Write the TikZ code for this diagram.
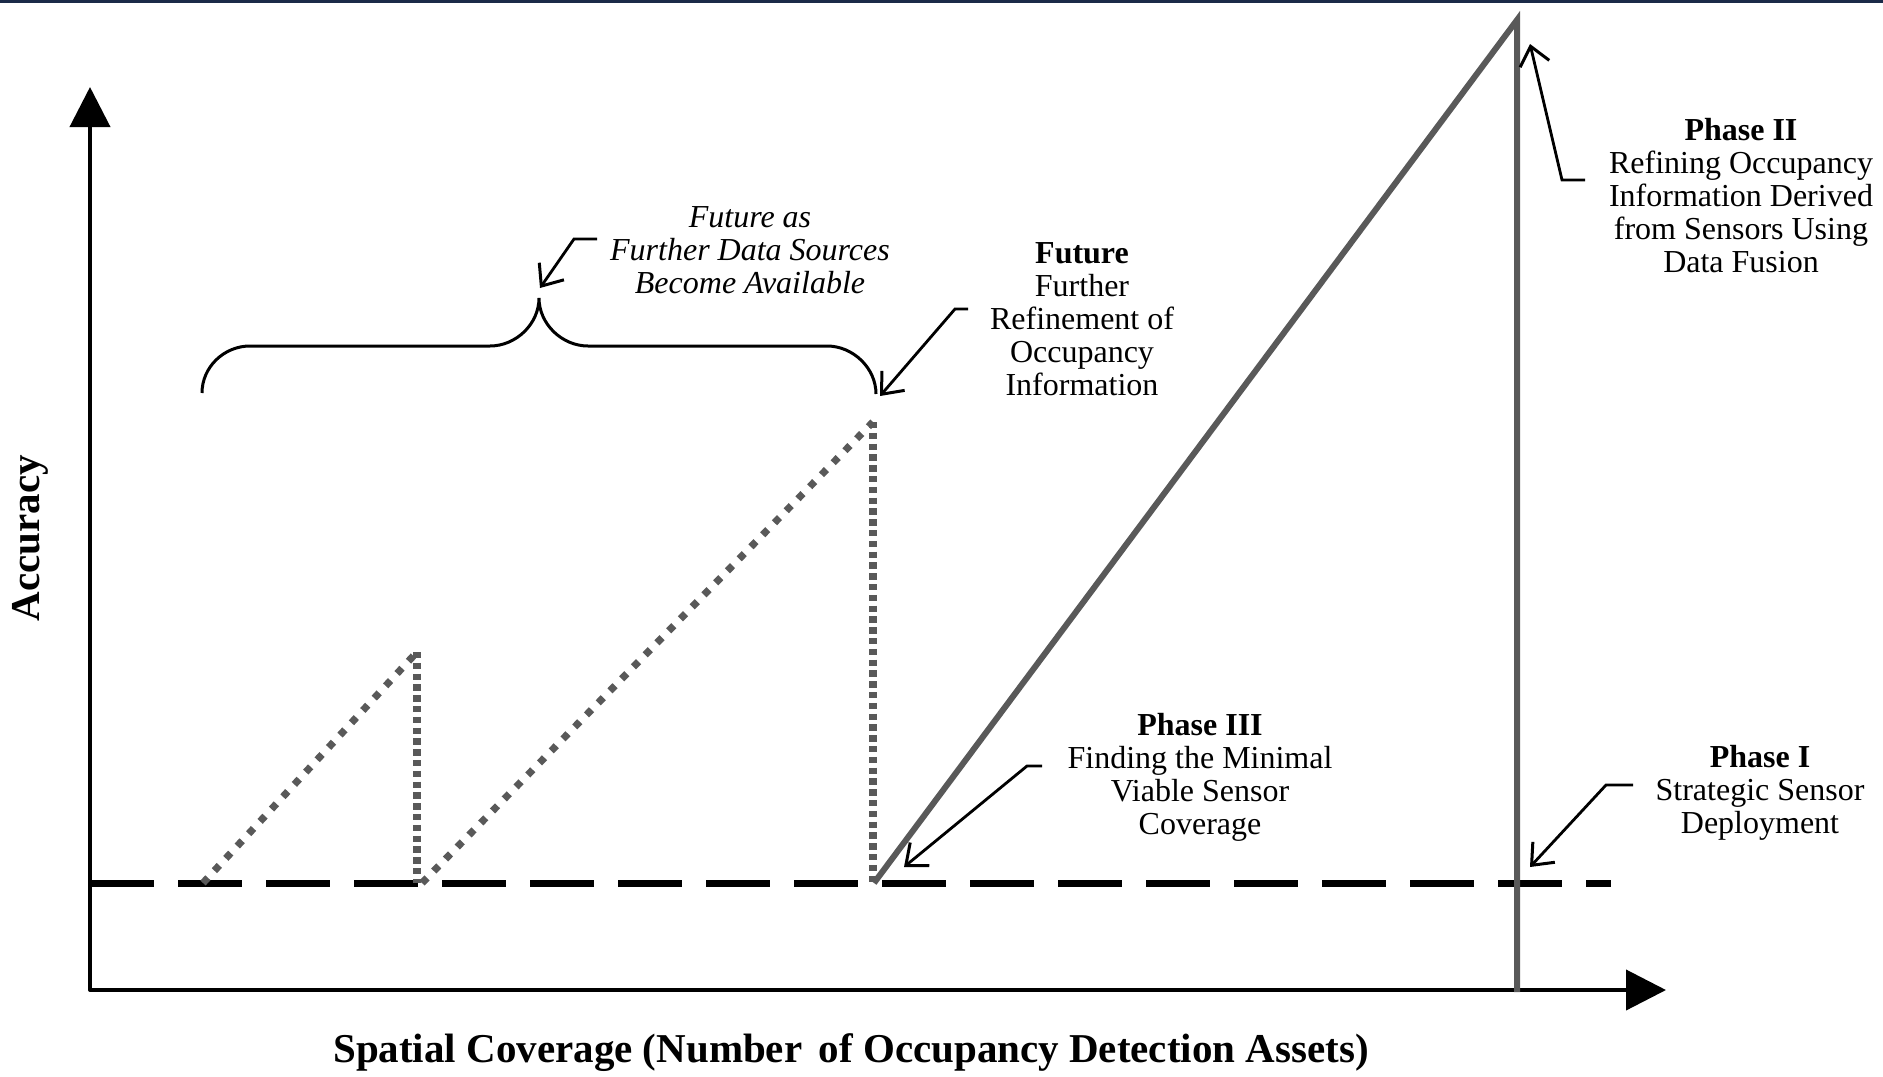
\documentclass[tikz,border=0pt]{standalone}
\usepackage{fontspec}
\setmainfont{Liberation Serif}
\usetikzlibrary{arrows.meta}
\definecolor{navybar}{HTML}{1B2A48}
\definecolor{phasegray}{HTML}{595959}
\begin{document}
\begin{tikzpicture}[x=0.5pt,y=-0.5pt,
  axisline/.style={line width=2pt,black,line join=round,
     {Triangle[length=20pt,width=20pt]}-{Triangle[length=20pt,width=20pt]}},
  basedash/.style={line width=3.5pt,black,dash pattern=on 32pt off 12pt},
  phaseline/.style={line width=3pt,phasegray,line join=miter},
  dotdiag/.style={line width=3.6pt,phasegray,dash pattern=on 3.6pt off 4.8pt},
  dotvert/.style={line width=3.6pt,phasegray,dash pattern=on 3.2pt off 2.2pt},
  note/.style={line width=1.4pt,black,-{Straight Barb[length=9pt,width=15pt,line width=1.5pt]}},
  bracestyle/.style={line width=1.5pt,black},
  txt/.style={align=center,inner sep=0pt,font=\fontsize{16}{16.5}\selectfont},
  axislabel/.style={inner sep=0pt,font=\bfseries\fontsize{20.5}{24}\selectfont}]
\useasboundingbox (0,0) rectangle (1883,1076);
\fill[navybar] (0,0) rectangle (1883,3);

% axes
\coordinate (ytip) at (90,87);
\coordinate (orig) at (90,990);
\coordinate (xtip) at (1666,990);
\draw[axisline] (ytip) -- (orig) -- (xtip);

% baseline
\coordinate (bl) at (90,883);
\coordinate (br) at (1611,883);
\draw[basedash] (bl) -- (br);

% phase line
\coordinate (p3) at (874,883);
\coordinate (peak) at (1517,20);
\coordinate (p1) at (1517,992);
\draw[phaseline] (p3) -- (peak) -- (p1);

% dotted future lines
\coordinate (s0) at (203,883);
\coordinate (s1) at (417,652);
\coordinate (s2) at (417,883);
\coordinate (l0) at (422,883);
\coordinate (l1) at (873,422);
\coordinate (l2) at (873,883);
\draw[dotdiag] (s0) -- (s1);
\draw[dotvert] (s1) -- (s2);
\draw[dotdiag] (l0) -- (l1);
\draw[dotvert] (l1) -- (l2);

% brace
\coordinate (brL) at (202,393);
\coordinate (brT) at (539,298);
\coordinate (brR) at (876,394);
\draw[bracestyle] (brL) .. controls (202,367) and (224,346) .. (250,346)
  -- (490,346) .. controls (516,346) and (539,324) .. (brT)
  .. controls (539,324) and (562,346) .. (588,346)
  -- (827,346) .. controls (853,346) and (876,368) .. (brR);

% labels
\node[axislabel,rotate=90] (acc) at (30,538) {Accuracy};
\node[axislabel] (spat) at (851,1053) {Spatial Coverage (Number\hspace{0.15em} of Occupancy Detection Assets)};

\node[txt] (ph2) at (1741,196) {\textbf{Phase II}\\Refining Occupancy\\Information Derived\\from Sensors Using\\Data Fusion};
\node[txt] (fut) at (1082,319) {\textbf{Future}\\Further\\Refinement of\\Occupancy\\Information};
\node[txt,font=\itshape\fontsize{16}{16.5}\selectfont] (futas) at (750,250) {Future as\\Further Data Sources\\Become Available};
\node[txt] (ph3) at (1200,777) {\textbf{Phase III}\\Finding the Minimal\\Viable Sensor\\Coverage};
\node[txt] (ph1) at (1760,793) {\textbf{Phase I}\\Strategic Sensor\\Deployment};

% annotation arrows
\coordinate (a1s) at (597,239);
\coordinate (a1k) at (574,239);
\coordinate (a1t) at (540,288);
\draw[note] (a1s) -- (a1k) -- (a1t);
\coordinate (a2s) at (968,309);
\coordinate (a2k) at (955,309);
\coordinate (a2t) at (880,396);
\draw[note] (a2s) -- (a2k) -- (a2t);
\coordinate (a3s) at (1585,180);
\coordinate (a3k) at (1562,180);
\coordinate (a3t) at (1530,44);
\draw[note] (a3s) -- (a3k) -- (a3t);
\coordinate (a4s) at (1042,766);
\coordinate (a4k) at (1027,766);
\coordinate (a4t) at (904,867);
\draw[note] (a4s) -- (a4k) -- (a4t);
\coordinate (a5s) at (1633,785);
\coordinate (a5k) at (1606,785);
\coordinate (a5t) at (1530,867);
\draw[note] (a5s) -- (a5k) -- (a5t);
\end{tikzpicture}
\end{document}
